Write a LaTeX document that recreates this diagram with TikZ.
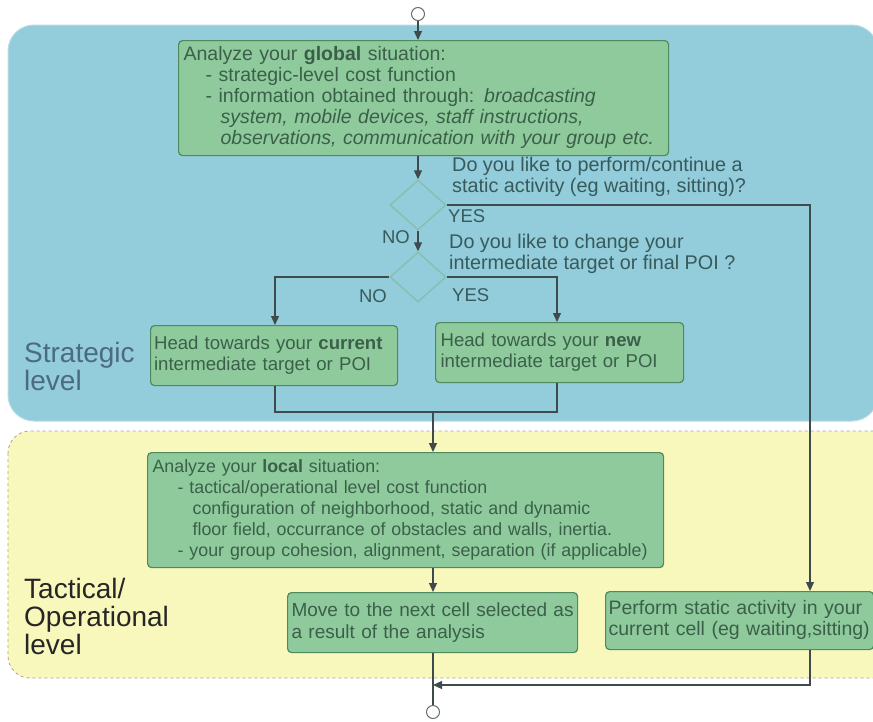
\documentclass[tikz,border=0pt]{standalone}
\usepackage{fontspec}
\setmainfont{Liberation Sans}
\usetikzlibrary{shapes.geometric,arrows.meta}
\definecolor{bluebg}{HTML}{93CCDA}
\definecolor{blueedge}{HTML}{B9DDE6}
\definecolor{yellowbg}{HTML}{F8F8BC}
\definecolor{yellowedge}{HTML}{A8A890}
\definecolor{boxfill}{HTML}{8ECA9C}
\definecolor{boxdraw}{HTML}{4F8A5E}
\definecolor{boxtext}{HTML}{3B6049}
\definecolor{qtext}{HTML}{375A5C}
\definecolor{linec}{HTML}{3E4A4C}
\definecolor{diamc}{HTML}{86BFAE}
\definecolor{strat}{HTML}{4B6B80}
\newcommand{\boxlines}[1]{\begin{tabular}{@{}l@{}}#1\end{tabular}}
\begin{document}
\begin{tikzpicture}[x=1pt,y=-1pt,
  box/.style={draw=boxdraw, fill=boxfill, rounded corners=4pt, line width=1.2pt,
    text=boxtext, align=left, anchor=north west, inner sep=5pt,
    font=\fontsize{19.5}{21}\selectfont},
  decision/.style={diamond, draw=diamc, line width=1.4pt, fill=bluebg,
    minimum width=56pt, minimum height=50pt, inner sep=0pt},
  term/.style={circle, draw=linec!80, fill=white, line width=1pt,
    minimum size=13pt, inner sep=0pt},
  conn/.style={draw=linec, line width=1.2pt},
  arr/.style={conn, -{Triangle[length=9pt,width=8pt]}},
  qlabel/.style={text=qtext, anchor=west, inner sep=0pt,
    font=\fontsize{19.8}{21}\selectfont},
  yn/.style={text=qtext, inner sep=0pt, font=\fontsize{18.5}{20}\selectfont},
  levellabel/.style={anchor=north west, inner sep=0pt,
    font=\fontsize{28}{26}\selectfont}
]
\useasboundingbox (0,0) rectangle (873,721);
% regions
\fill[white] (0,0) rectangle (873,721);
\begin{scope}
\clip (0,0) rectangle (873,721);
\draw[fill=bluebg, draw=blueedge, line width=1pt, rounded corners=26pt] (8,25) rectangle (878,421);
\draw[fill=yellowbg, draw=yellowedge, line width=0.8pt, dashed, rounded corners=22pt] (8,431) rectangle (900,678);
\end{scope}

% level labels
\node[levellabel, text=strat] (strl) at (24,342) {\boxlines{Strategic\\level}};
\node[levellabel, text=black!85] (tacl) at (24,578) {\boxlines{Tactical/\\Operational\\level}};

% nodes
\node[term] (start) at (418,14) {};
\node[box, minimum width=490pt, minimum height=112pt, text width=480pt] (glob) at (178,40)
 {\boxlines{Analyze your \textbf{global} situation:\\
  \hspace*{22pt}- strategic-level cost function\\
  \hspace*{22pt}- information obtained through: \textit{broadcasting}\\
  \hspace*{37pt}\textit{system, mobile devices, staff instructions,}\\
  \hspace*{37pt}\textit{observations, communication with your group etc.}}};
\node[decision] (d1) at (418,205) {};
\node[decision] (d2) at (418,277) {};
\node[qlabel] (q1) at (452,178) {\boxlines{Do you like to perform/continue a\\static activity (eg waiting, sitting)?}};
\node[qlabel] (q2) at (449,255) {\boxlines{Do you like to change your\\intermediate target or final POI ?}};
\node[yn, anchor=west] (yes1) at (448,216) {YES};
\node[yn, anchor=east] (no1) at (410,237) {NO};
\node[yn, anchor=east] (no2) at (387,296) {NO};
\node[yn, anchor=west] (yes2) at (452,295) {YES};

\node[box, minimum width=247pt, minimum height=60pt, text width=240pt, inner xsep=3.5pt,
  font=\fontsize{18.6}{21}\selectfont] (cur) at (150,325)
 {\boxlines{Head towards your \textbf{current}\\intermediate target or POI}};
\node[box, minimum width=248pt, minimum height=60pt, text width=238pt,
  font=\fontsize{18.6}{21}\selectfont] (new) at (435,322)
 {\boxlines{Head towards your \textbf{new}\\intermediate target or POI}};

\node[box, minimum width=516pt, minimum height=113pt, text width=506pt,
  font=\fontsize{17.8}{21}\selectfont] (loc) at (147,452)
 {\boxlines{Analyze your \textbf{local} situation:\\
  \hspace*{25pt}- tactical/operational level cost function\\
  \hspace*{40pt}configuration of neighborhood, static and dynamic\\
  \hspace*{40pt}floor field, occurrance of obstacles and walls, inertia.\\
  \hspace*{25pt}- your group cohesion, alignment, separation (if applicable)}};

\node[box, minimum width=290pt, minimum height=60pt, text width=282pt, inner xsep=4pt,
  font=\fontsize{19}{22}\selectfont] (move) at (287,592)
 {\boxlines{Move to the next cell selected as\\a result of the analysis}};
\node[box, minimum width=268pt, minimum height=58pt, text width=262pt, inner xsep=3pt] (perf) at (605,591)
 {\boxlines{Perform static activity in your\\current cell (eg waiting,sitting)}};
\node[term] (end) at (433,712) {};

% helper coordinates
\coordinate (yesx) at (810,205);
\coordinate (nox) at (275,277);
\coordinate (newx) at (557,277);
\coordinate (joinL) at (275,412);
\coordinate (joinR) at (557,412);
\coordinate (joinM) at (433,412);
\coordinate (perfB) at (810,685);
\coordinate (backM) at (433,685);

% connectors
\draw[arr] (start) -- (start |- glob.north);
\draw[arr] (glob.south -| d1) -- (d1.north);
\draw[arr] (d1.south) -- (d2.north);
\draw[arr] (d1.east) -- (yesx) -- (yesx |- perf.north);
\draw[arr] (d2.west) -- (nox) -- (nox |- cur.north);
\draw[arr] (d2.east) -- (newx) -- (newx |- new.north);
\draw[conn] (joinL |- cur.south) -- (joinL) -- (joinR) -- (joinR |- new.south);
\draw[arr] (joinM) -- (joinM |- loc.north);
\draw[arr] (joinM |- loc.south) -- (joinM |- move.north);
\draw[conn] (joinM |- move.south) -- (end);
\draw[arr] (perfB |- perf.south) -- (perfB) -- (backM);
\end{tikzpicture}
\end{document}
